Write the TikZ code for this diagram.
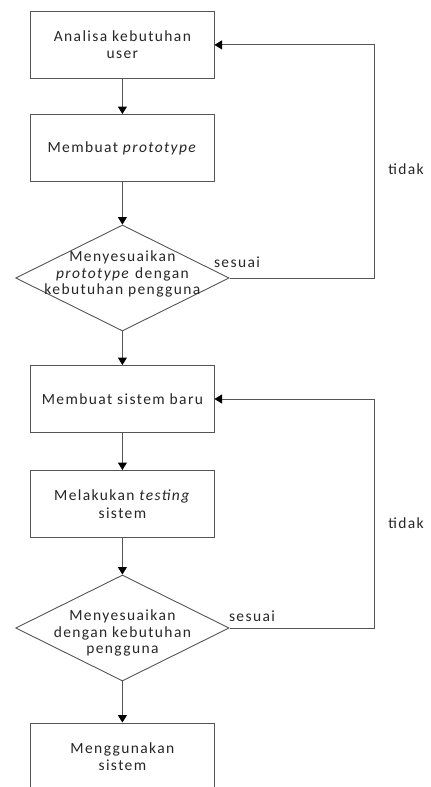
\documentclass[tikz,border=0pt]{standalone}
\usepackage{fontspec}
\setmainfont{Carlito}[LetterSpace=9]
\usetikzlibrary{arrows.meta,shapes.geometric}

\definecolor{edge}{RGB}{85,85,85}

\tikzset{
  every node/.style={font=\fontsize{15.5bp}{17.5bp}\selectfont, text=black!85},
  stepbox/.style={draw=edge, line width=0.9bp, fill=white, minimum width=183.3bp,
    minimum height=67bp, inner sep=0pt, align=center},
  decision/.style={draw=edge, line width=0.9bp, shape=diamond, minimum width=213.5bp,
    minimum height=106bp, inner sep=0pt},
  dtext/.style={align=center, inner sep=0pt, font=\fontsize{15.5bp}{16.8bp}\selectfont},
  lbl/.style={inner sep=0pt},
  flow/.style={draw=edge, line width=0.9bp,
    -{Triangle[length=7.5bp, width=9bp, color=black]}},
}

\begin{document}
\begin{tikzpicture}[x=1bp, y=-1bp]
  \useasboundingbox (0,0) rectangle (430,787);
  \clip (0,0) rectangle (430,787);

  % first cycle: requirements and prototype
  \node[stepbox] (b1) at (122.4,44.9) {Analisa kebutuhan\\user};
  \node[stepbox] (b2) at (122.4,148) {Membuat \textit{prototype}};
  \node[decision] (d1) at (122.4,278) {};
  \node[dtext] (d1t) at (122.4,274) {Menyesuaikan\\\textit{prototype} dengan\\kebutuhan pengguna};

  % second cycle: building and testing the system
  \node[stepbox] (b3) at (122.4,399) {Membuat sistem baru};
  \node[stepbox] (b4) at (122.4,504) {Melakukan \textit{testing}\\sistem};
  \node[decision] (d2) at (122.4,628) {};
  \node[dtext] (d2t) at (122.4,633) {Menyesuaikan\\dengan kebutuhan\\pengguna};

  \node[stepbox] (b5) at (122.4,756.5) {Menggunakan\\sistem};

  % main flow
  \draw[flow] (b1) -- (b2);
  \draw[flow] (b2) -- (d1);
  \draw[flow] (d1) -- (b3);
  \draw[flow] (b3) -- (b4);
  \draw[flow] (b4) -- (d2);
  \draw[flow] (d2) -- (b5);

  % feedback loops
  \coordinate (r1) at (374.7,278);
  \coordinate (r2) at (374.7,628);
  \draw[flow] (d1.east) -- (r1) |- (b1.east);
  \draw[flow] (d2.east) -- (r2) |- (b3.east);

  % loop labels
  \node[lbl] (s1) at (237,262) {sesuai};
  \node[lbl] (s2) at (252,616) {sesuai};
  \node[lbl] (t1) at (406,169) {tidak};
  \node[lbl] (t2) at (406,523) {tidak};
\end{tikzpicture}
\end{document}
